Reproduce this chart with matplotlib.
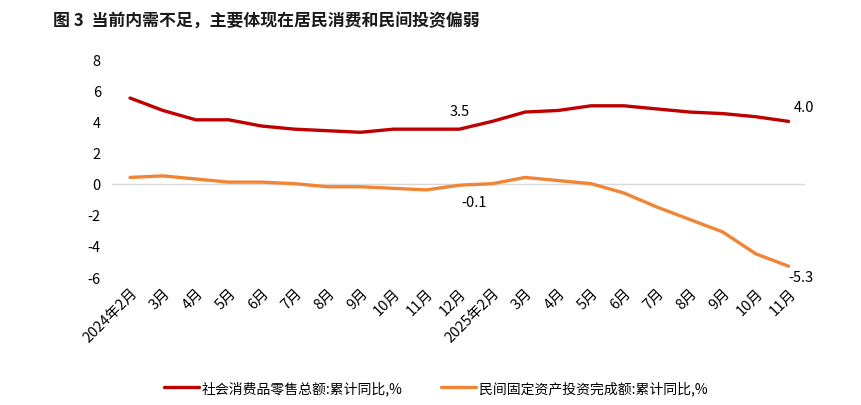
import matplotlib
matplotlib.use("Agg")
import matplotlib.pyplot as plt

plt.rcParams['font.family'] = ['Noto Sans CJK SC', 'DejaVu Sans']

months = ["2024年2月", "3月", "4月", "5月", "6月", "7月", "8月", "9月", "10月", "11月", "12月",
          "2025年2月", "3月", "4月", "5月", "6月", "7月", "8月", "9月", "10月", "11月"]
retail = [5.5, 4.7, 4.1, 4.1, 3.7, 3.5, 3.4, 3.3, 3.5, 3.5, 3.5,
          4.0, 4.6, 4.7, 5.0, 5.0, 4.8, 4.6, 4.5, 4.3, 4.0]
private_inv = [0.4, 0.5, 0.3, 0.1, 0.1, 0.0, -0.2, -0.2, -0.3, -0.4, -0.1,
               0.0, 0.4, 0.2, 0.0, -0.6, -1.5, -2.3, -3.1, -4.5, -5.3]
yticks = [-6, -4, -2, 0, 2, 4, 6, 8]
series_names = ["社会消费品零售总额:累计同比,%", "民间固定资产投资完成额:累计同比,%"]
title = "图 3  当前内需不足，主要体现在居民消费和民间投资偏弱"

red = "#C00000"
orange = "#F08536"

fig = plt.figure(figsize=(8.61, 4.06), dpi=100)
ax = fig.add_axes([0.130, 0.315, 0.805, 0.537])
x = list(range(len(months)))
ax.axhline(0, color="#D9D9D9", lw=1, zorder=1)
ax.plot(x, retail, color=red, lw=2.4, label=series_names[0], zorder=3, solid_capstyle="round")
ax.plot(x, private_inv, color=orange, lw=2.4, label=series_names[1], zorder=3, solid_capstyle="round")

ax.set_xlim(-0.55, len(months) - 0.5)
ax.set_ylim(-6, 8)
ax.set_yticks(yticks)
ax.set_yticklabels([str(v) for v in yticks], fontsize=10.5, color="#000000")
ax.set_xticks(x)
ax.set_xticklabels(months, rotation=45, ha="right", rotation_mode="anchor", fontsize=10.5)
ax.tick_params(axis="both", length=0)
ax.tick_params(axis="y", pad=8)
ax.tick_params(axis="x", pad=6)
for s in ax.spines.values():
    s.set_visible(False)

ax.annotate(f"{retail[10]:.1f}", (10, retail[10]), xytext=(0, 8), textcoords="offset points",
            ha="center", va="bottom", fontsize=10.5)
ax.annotate(f"{private_inv[10]:.1f}", (10, private_inv[10]), xytext=(11, -7), textcoords="offset points",
            ha="center", va="top", fontsize=10.5)
ax.annotate(f"{retail[-1]:.1f}", (20, retail[-1]), xytext=(11, 5), textcoords="offset points",
            ha="center", va="bottom", fontsize=10.5)
ax.annotate(f"{private_inv[-1]:.1f}", (20, private_inv[-1]), xytext=(9, -3), textcoords="offset points",
            ha="center", va="top", fontsize=10.5)

fig.text(0.0616, 0.946, title, fontsize=12.2, fontweight="bold", ha="left", va="center", color="#1a1a1a")
fig.legend(loc="center", bbox_to_anchor=(0.506, 0.042), ncol=2, frameon=False, fontsize=10,
           handlelength=2.5, columnspacing=2.8, handletextpad=0.2)

fig.savefig("out.png", dpi=100)
